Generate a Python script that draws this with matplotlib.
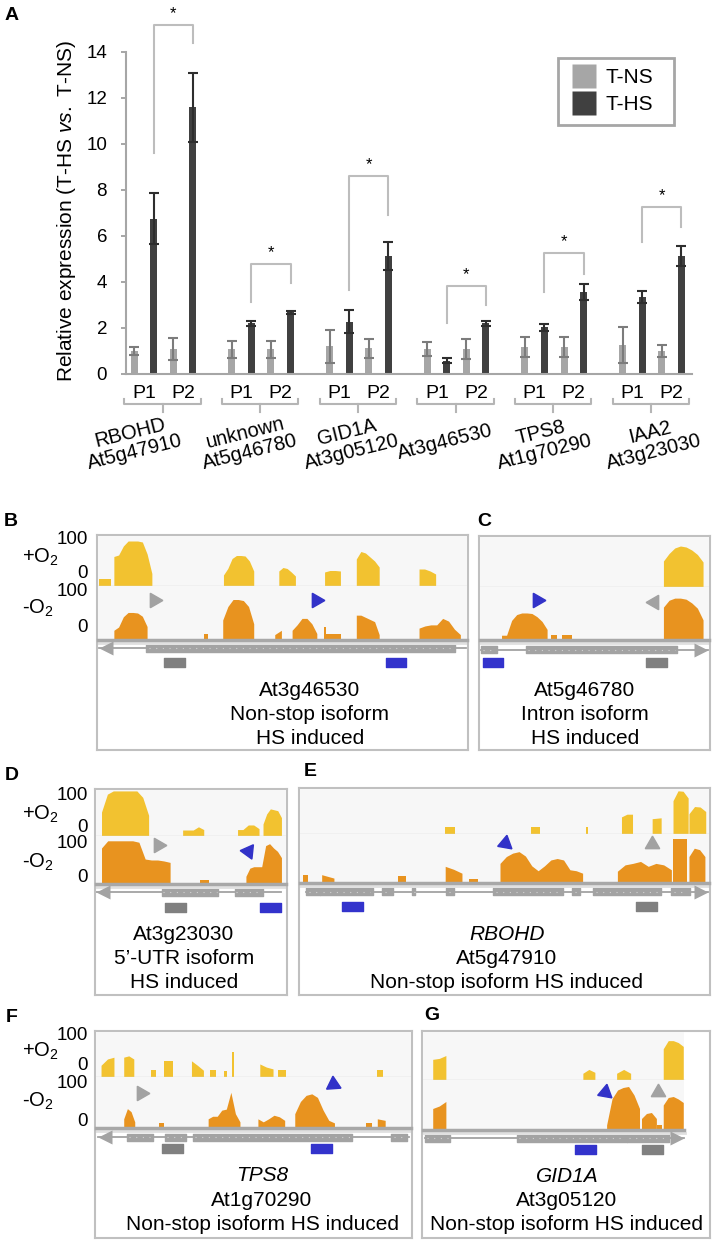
import numpy as np
import matplotlib
matplotlib.use("Agg")
import matplotlib.pyplot as plt
from matplotlib.lines import Line2D
from matplotlib.transforms import offset_copy

plt.rcParams["font.family"] = ["Liberation Sans", "DejaVu Sans"]
plt.rcParams["mathtext.fontset"] = "custom"
plt.rcParams["mathtext.rm"] = "Liberation Sans"
plt.rcParams["mathtext.it"] = "Liberation Sans:italic"

W, H = 714, 1242

# ---------------- panel A data ----------------
genes = ["RBOHD\nAt5g47910", "unknown\nAt5g46780", "GID1A\nAt3g05120",
         "At3g46530", "TPS8\nAt1g70290", "IAA2\nAt3g23030"]
primers = ["P1", "P2"]
tns = [[1.0, 1.1], [1.08, 1.08], [1.2, 1.12], [1.08, 1.1], [1.17, 1.17], [1.26, 1.0]]
tns_err = [[0.17, 0.47], [0.37, 0.37], [0.72, 0.42], [0.29, 0.44], [0.45, 0.45], [0.78, 0.28]]
ths = [[6.75, 11.6], [2.2, 2.68], [2.27, 5.13], [0.58, 2.2], [2.04, 3.56], [3.34, 5.13]]
ths_err = [[1.1, 1.5], [0.12, 0.05], [0.5, 0.6], [0.1, 0.1], [0.15, 0.36], [0.27, 0.45]]
# significance brackets: top, left leg end, right leg end
sig_top = [15.17, 4.78, 8.6, 3.84, 5.24, 7.24]
sig_left = [9.6, 3.13, 3.64, 2.2, 3.57, 5.76]
sig_right = [14.4, 3.96, 6.92, 3.0, 4.35, 6.41]

# ---------------- browser tracks (x in % of window, height in % of track) ----------------
B_PLUS = [(0.3, 3.6, [15, 15]), (4.3, 14.6, [59, 62, 80, 90, 90, 90, 88, 64, 25]),
          (34.0, 42.2, [22, 35, 55, 61, 61, 60, 50, 30]), (49.0, 53.5, [30, 37, 35, 28, 20]),
          (61.4, 65.7, [28, 31, 31, 30]), (70.0, 76.2, [54, 69, 66, 58, 50, 38]),
          (87.0, 91.5, [34, 34, 30, 24])]
B_MINUS = [(4.3, 13.3, [18, 24, 43, 51, 51, 50, 44, 25]), (28.8, 29.7, [12, 12]),
           (33.8, 42.2, [37, 62, 75, 75, 73, 62, 30]), (47.9, 49.7, [10, 18]),
           (52.6, 59.3, [18, 28, 40, 40, 30, 12]), (61.2, 61.9, [25, 25]), (61.9, 65.9, [11, 11]),
           (70.0, 76.2, [46, 46, 42, 38, 34, 10]), (87.0, 98.2, [22, 26, 28, 28, 40, 35, 20, 10])]
B_MARKS = [(15.1, 74, -90, "gray"), (59.0, 75, -90, "blue")]
B_GENE = ("-", 0.5, 99.5)
B_EXONS = [(13.3, 96.4)]
B_BOXES = [(18.0, 23.6, "gray"), (77.8, 83.4, "blue")]

C_PLUS = [(80.1, 97.4, [52, 67, 78, 82, 80, 74, 65, 50])]
C_MINUS = [(9.4, 29.3, [9, 9, 37, 48, 51, 51, 50, 44, 35, 20]), (31.0, 33.6, [9, 9]),
           (35.8, 40.1, [9, 9]), (80.1, 97.4, [62, 75, 79, 79, 77, 70, 60, 38])]
C_MARKS = [(24.7, 75, -90, "blue"), (76.2, 72, 90, "gray")]
C_GENE = ("+", 1.0, 99.3)
C_EXONS = [(1.0, 8.0), (20.3, 85.6)]
C_BOXES = [(72.3, 81.2, "gray"), (1.6, 10.5, "blue")]

D_PLUS = [(2.9, 27.7, [52, 91, 98, 98, 98, 98, 98, 84, 45]), (45.6, 56.7, [13, 13, 13, 20, 14]),
          (74.5, 85.8, [14, 14, 24, 24, 16]), (87.9, 97.6, [26, 48, 59, 57, 55, 40])]
D_MINUS = [(2.9, 39.0, [75, 90, 90, 90, 90, 90, 87, 52, 50, 50, 48, 45]), (54.6, 59.4, [9, 9]),
           (78.9, 97.6, [16, 33, 36, 36, 36, 80, 84, 75, 68, 55])]
D_MARKS = [(32.4, 81, -90, "gray"), (80.2, 69, 84, "blue")]
D_GENE = ("-", 0.5, 97.0)
D_EXONS = [(34.7, 64.1), (72.8, 87.5)]
D_BOXES = [(36.4, 47.3, "gray"), (85.8, 96.7, "blue")]

E_PLUS = [(35.5, 37.9, [16, 16]), (56.4, 58.6, [16, 16]), (70.0, 70.4, [15, 15]),
          (78.6, 81.3, [38, 44, 44]), (86.1, 88.3, [34, 36]), (91.2, 94.9, [74, 96, 95, 80]),
          (95.1, 99.2, [45, 61, 60, 50])]
E_MINUS = [(0.7, 1.9, [17, 17]), (5.3, 8.3, [17, 10]), (23.9, 26.0, [15, 15]),
           (35.5, 39.6, [34, 28, 20]), (41.4, 43.6, [9, 9]),
           (48.9, 69.1, [40, 54, 61, 64, 55, 35, 25, 35, 47, 50, 47, 27, 25, 20]),
           (77.6, 90.8, [24, 37, 40, 44, 34, 40, 37, 27]), (91.2, 94.6, [89, 89, 89]),
           (95.1, 99.0, [54, 71, 68, 54])]
E_MARKS = [(50.1, 82, -10, "blue"), (86.1, 80, 0, "gray")]
E_GENE = ("+", 1.7, 99.5)
E_EXONS = [(1.7, 5.1), (5.1, 18.0), (20.2, 22.9), (27.5, 28.2), (35.8, 37.7), (47.2, 64.2),
           (66.4, 68.4), (71.5, 88.1), (90.5, 95.1)]
E_BOXES = [(82.0, 87.1, "gray"), (10.5, 15.6, "blue")]

F_PLUS = [(1.6, 5.7, [26, 40, 44]), (8.8, 12.0, [44, 47, 40]), (17.4, 19.2, [16, 16]),
          (21.5, 24.6, [36, 36]), (30.3, 34.1, [36, 26, 15]), (36.3, 38.2, [15, 15]),
          (40.7, 41.6, [13, 13]), (43.2, 43.8, [55, 55]), (52.0, 56.2, [29, 22, 18]),
          (57.7, 60.3, [15, 15]), (89.3, 91.2, [15, 15])]
F_MINUS = [(8.8, 12.3, [18, 38, 32, 12]), (19.9, 21.5, [10, 10]),
           (35.6, 45.7, [18, 23, 23, 35, 37, 70, 28, 12]), (51.4, 59.9, [18, 12, 18, 25, 22, 15]),
           (63.1, 75.7, [28, 52, 64, 67, 60, 35, 15, 10]), (85.8, 87.7, [10, 10]),
           (89.3, 91.8, [18, 15])]
F_MARKS = [(14.2, 69, -90, "gray"), (75.1, 86, 4, "blue")]
F_GENE = ("-", 1.0, 99.0)
F_EXONS = [(10.0, 18.3), (22.0, 28.7), (30.9, 81.1), (93.4, 98.4)]
F_BOXES = [(21.1, 27.8, "gray"), (68.1, 74.8, "blue")]

G_PLUS = [(3.4, 8.0, [43, 45, 51]), (55.9, 60.1, [14, 22, 16]), (67.7, 72.6, [14, 22, 14]),
          (84.0, 91.0, [65, 82, 82, 78, 70])]
G_MINUS = [(3.4, 8.0, [43, 48, 57]), (64.2, 75.7, [10, 63, 80, 85, 87, 70, 43]),
           (76.4, 81.6, [23, 33, 35, 23]), (81.9, 83.7, [10, 10]),
           (84.0, 91.0, [50, 65, 67, 62, 55])]
G_MARKS = [(63.5, 76, -10, "blue"), (82.3, 76, 0, "gray")]
G_GENE = ("+", 1.0, 91.0)
G_EXONS = [(1.0, 9.7), (33.0, 71.2), (71.2, 85.8)]
G_BOXES = [(76.4, 83.7, "gray"), (53.1, 60.4, "blue")]

NS_COLOR, HS_COLOR = "#a6a6a6", "#404040"
AXIS_GRAY = "#a6a6a6"
PLUS_COLOR, MINUS_COLOR = "#f2c230", "#e8931f"
TRACK_BG = "#f7f7f7"
MODEL_GRAY = "#a3a3a3"
MARK_COLORS = {"gray": "#a2a2a2", "blue": "#3232c8"}
BOX_COLORS = {"gray": "#808080", "blue": "#3333cc"}

fig = plt.figure(figsize=(W / 100, H / 100), dpi=100)


def px_axes(x0, y0, x1, y1, zorder=1):
    return fig.add_axes([x0 / W, 1 - y1 / H, (x1 - x0) / W, (y1 - y0) / H], zorder=zorder)


def ftext(x, y, s, **kw):
    kw.setdefault("ha", "center")
    kw.setdefault("va", "center")
    fig.text(x / W, 1 - y / H, s, **kw)


# ---------------- panel A ----------------
ax = px_axes(126, 52, 692, 374)
slots = np.arange(len(genes))[:, None] * 5
x_ns = (slots + np.array([0, 2])).ravel()
x_hs = (slots + np.array([1, 3])).ravel()
ax.bar(x_ns, np.ravel(tns), width=0.36, color=NS_COLOR, zorder=2)
ax.bar(x_hs, np.ravel(ths), width=0.36, color=HS_COLOR, zorder=2)
err_kw = dict(fmt="none", elinewidth=1.5, capsize=3.3, capthick=1.5, zorder=3)
ax.errorbar(x_ns, np.ravel(tns), yerr=np.ravel(tns_err), ecolor="#7c7c7c", **err_kw)
ax.errorbar(x_hs, np.ravel(ths), yerr=np.ravel(ths_err), ecolor="#2e2e2e", **err_kw)

ax.set_xlim(-0.42, 28.55)
ax.set_ylim(0, 14)
ax.set_yticks(range(0, 15, 2))
ax.set_xticks([])
for side in ("top", "right"):
    ax.spines[side].set_visible(False)
for side in ("left", "bottom"):
    ax.spines[side].set_color(AXIS_GRAY)
    ax.spines[side].set_linewidth(1.5)
ax.tick_params(axis="y", direction="out", length=3.6, width=1.4, color=AXIS_GRAY,
               labelsize=13.5, pad=10)

label_shift = [-1.6, -0.7, -0.5, -0.6, -0.6, 0.0]
for g in range(len(genes)):
    base = 5 * g
    xl, xr = base + 1, base + 3
    ax.plot([xl, xl, xr, xr], [sig_left[g], sig_top[g], sig_top[g], sig_right[g]],
            color="#bdbdbd", lw=1.5, clip_on=False)
    ax.text((xl + xr) / 2, sig_top[g] + 0.5, "*", ha="center", va="center",
            fontsize=12, clip_on=False)
    for p, name in enumerate(primers):
        ax.text(base + 2 * p + 0.5, -0.83, name, ha="center", va="center",
                fontsize=14, clip_on=False)
    ax.plot([base - 0.5, base - 0.5, base + 3.4, base + 3.4], [-1.09, -1.3, -1.3, -1.09],
            color="#b5b5b5", lw=1.5, clip_on=False)
    ax.plot([base + 1.45] * 2, [-1.3, -1.65], color="#b5b5b5", lw=1.5, clip_on=False)
    ax.text(base + 1.5 + label_shift[g], -2.96, genes[g], rotation=14, rotation_mode="anchor",
            ha="center", va="center", multialignment="center", fontsize=14.5,
            linespacing=1.05, clip_on=False)

ftext(67, 211, "Relative expression (T-HS $\\it{vs.}$ T-NS)", rotation=90, fontsize=15)

handles = [Line2D([], [], ls="none", marker="s", ms=17, mfc=c, mec="none")
           for c in (NS_COLOR, HS_COLOR)]
leg = ax.legend(handles, ["T-NS", "T-HS"], loc="upper left", mode="expand",
                bbox_to_anchor=(558 / W, 1 - 127 / H, 116 / W, 69 / H),
                bbox_transform=fig.transFigure,
                fancybox=False, edgecolor=AXIS_GRAY, framealpha=1, borderaxespad=0,
                fontsize=15, handletextpad=0.3, labelspacing=0.38, borderpad=0.5,
                handlelength=1.5)
leg.get_frame().set_linewidth(2)


# ---------------- browser panels ----------------
def draw_coverage(tax, blocks, color, track_end):
    tax.set_xlim(0, 100)
    tax.set_ylim(0, 100)
    tax.axis("off")
    tax.axvspan(0, track_end, color=TRACK_BG, lw=0, zorder=0)
    for start, end, heights in blocks:
        xs = np.concatenate([[start], np.linspace(start, end, len(heights)), [end]])
        ys = np.concatenate([[0], heights, [0]])
        tax.fill_between(xs, ys, color=color, lw=0, zorder=2)


def draw_panel(letter, letter_xy, box, sep_y, base_y, gene_y, feat_y, track_end,
               plus, minus, marks, gene, exons, boxes, caption_x, caption):
    x0, y0, x1, y1 = box
    bax = px_axes(x0, y0, x1, y1, zorder=1)
    bax.set_xlim(0, 100)
    bax.set_ylim(y1, y0)
    bax.set_xticks([])
    bax.set_yticks([])
    for sp in bax.spines.values():
        sp.set_color("#c0c0c0")
        sp.set_linewidth(1.5)

    pax = px_axes(x0 + 1, y0 + 1, x1 - 1, sep_y, zorder=2)
    draw_coverage(pax, plus, PLUS_COLOR, track_end)
    pax.plot([0, track_end], [0, 0], color="#d8d8d8", lw=1, zorder=3)
    max_ = px_axes(x0 + 1, sep_y, x1 - 1, base_y, zorder=2)
    draw_coverage(max_, minus, MINUS_COLOR, track_end)
    max_.plot([0, track_end], [0, 0], color="#a8a8a8", lw=2.5, zorder=3, clip_on=False)
    for mx, my, ang, col in marks:
        max_.plot(mx, my, ls="none", marker=(3, 0, ang), ms=12, color=MARK_COLORS[col],
                  zorder=4, clip_on=False)

    bax.plot([0, track_end], [base_y + 3] * 2, color="#e0e0e0", lw=2)
    strand, g0, g1 = gene
    bax.plot([g0, g1], [gene_y] * 2, color=MODEL_GRAY, lw=1.3)
    bax.broken_barh([(s, e - s) for s, e in exons], (gene_y - 3.5, 7), color=MODEL_GRAY)
    for s, e in exons:
        bax.plot([s + 0.8, e - 0.8], [gene_y] * 2, color="#d2d2d2", lw=0.8, ls=(0, (1, 5)))
    if strand == "-":
        tip, mk, dx = g0, "<", 5
    else:
        tip, mk, dx = g1, ">", -5
    bax.plot(tip, gene_y, marker=mk, ms=10, color=MODEL_GRAY, mec="none",
             transform=offset_copy(bax.transData, fig=fig, x=dx, y=0, units="points"),
             clip_on=False)
    for s, e, col in boxes:
        bax.broken_barh([(s, e - s)], (feat_y - 4.5, 9), color=BOX_COLORS[col])

    for (text, style), cy in zip(caption, (0, 24.5, 48.5)):
        ftext(caption_x, feat_y + 27.5 + cy, text, fontsize=15, fontstyle=style)
    ftext(letter_xy[0], letter_xy[1], letter, fontsize=14, fontweight="bold")


def left_labels(ys):
    top100, zero_a, plus_y, mid100, minus_y, zero_b = ys
    for y, s in ((top100, "100"), (zero_a, "0"), (mid100, "100"), (zero_b, "0")):
        ftext(88, y, s, ha="right", fontsize=13.5)
    ftext(40, plus_y, "+O$_2$", fontsize=14.5)
    ftext(38, minus_y, "-O$_2$", fontsize=14.5)


N, I = "normal", "italic"
draw_panel("B", (11, 522), (97, 535, 468, 750), 586, 640, 648, 662.5, 100,
           B_PLUS, B_MINUS, B_MARKS, B_GENE, B_EXONS, B_BOXES, 310,
           [("At3g46530", N), ("Non-stop isoform", N), ("HS induced", N)])
draw_panel("C", (484, 521), (479, 536, 710, 750), 587, 640, 650, 663, 100,
           C_PLUS, C_MINUS, C_MARKS, C_GENE, C_EXONS, C_BOXES, 585,
           [("At5g46780", N), ("Intron isoform", N), ("HS induced", N)])
draw_panel("D", (12, 775), (95, 789, 287, 995), 836, 884, 892, 907, 100,
           D_PLUS, D_MINUS, D_MARKS, D_GENE, D_EXONS, D_BOXES, 184,
           [("At3g23030", N), ("5\u2019-UTR isoform", N), ("HS induced", N)])
draw_panel("E", (310, 772), (299, 788, 710, 995), 834, 883, 892, 907, 100,
           E_PLUS, E_MINUS, E_MARKS, E_GENE, E_EXONS, E_BOXES, 507,
           [("RBOHD", I), ("At5g47910", N), ("Non-stop isoform HS induced", N)])
draw_panel("F", (12, 1017), (95, 1031, 412, 1238), 1077, 1128, 1137, 1148, 100,
           F_PLUS, F_MINUS, F_MARKS, F_GENE, F_EXONS, F_BOXES, 262,
           [("TPS8", I), ("At1g70290", N), ("Non-stop isoform HS induced", N)])
draw_panel("G", (432, 1016), (422, 1031, 710, 1238), 1080, 1130, 1138, 1149, 91.3,
           G_PLUS, G_MINUS, G_MARKS, G_GENE, G_EXONS, G_BOXES, 567,
           [("GID1A", I), ("At3g05120", N), ("Non-stop isoform HS induced", N)])

left_labels((540, 573, 557, 592, 608, 628))
left_labels((795, 827, 814, 843, 862, 878))
left_labels((1035, 1065, 1051, 1084, 1101, 1122))

ftext(12, 15, "A", fontsize=14, fontweight="bold")

fig.savefig("out.png", dpi=100)
